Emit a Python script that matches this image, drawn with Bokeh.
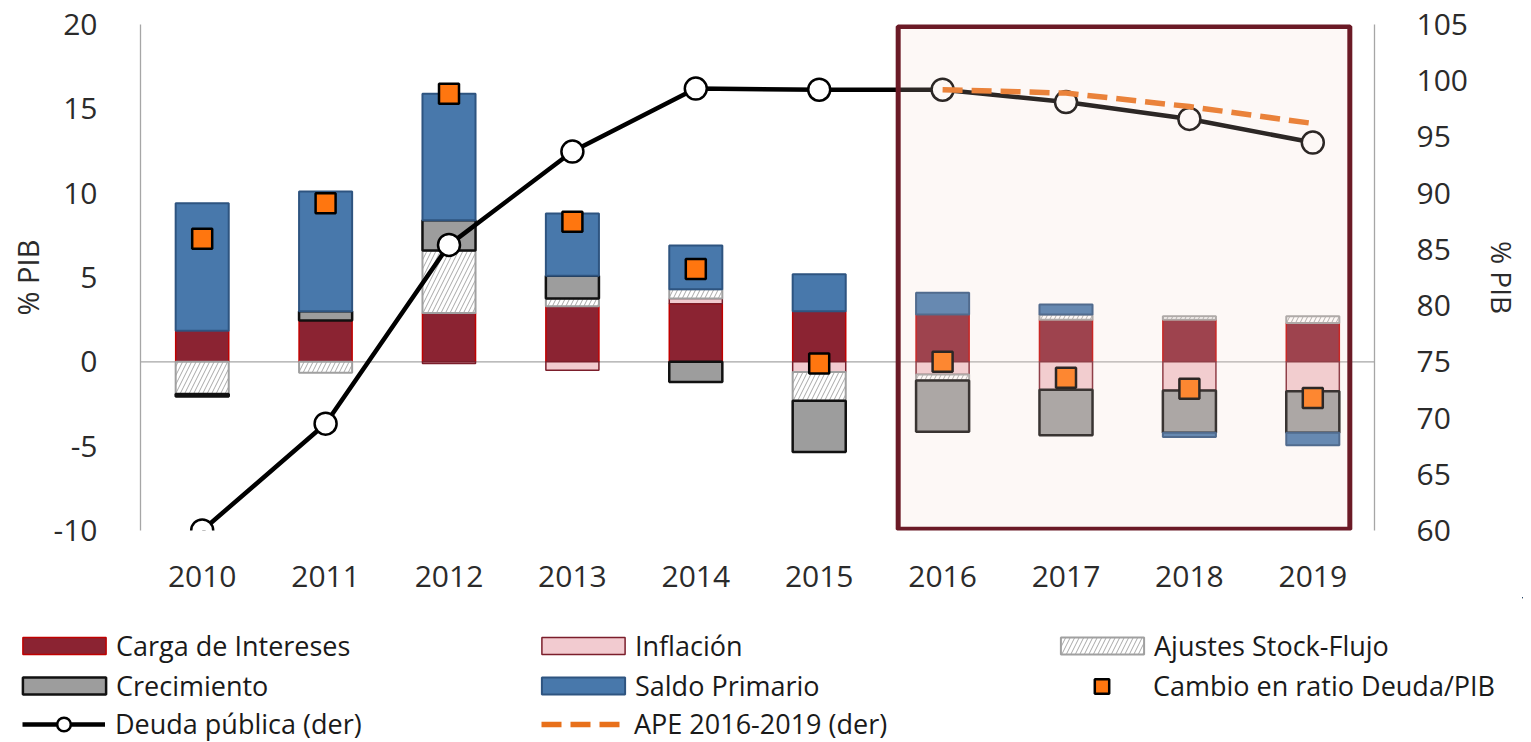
import numpy as np
from bokeh.plotting import figure
from bokeh.models import (Range1d, LinearAxis, FixedTicker, Span, Legend,
                          LegendItem, ColumnDataSource, BoxAnnotation)
from bokeh.embed import file_html
from bokeh.resources import INLINE

# ---------------- data ----------------
years = [2010, 2011, 2012, 2013, 2014, 2015, 2016, 2017, 2018, 2019]
carga_intereses = [1.85, 2.45, 2.9, 3.3, 3.45, 3.0, 2.8, 2.5, 2.5, 2.3]
inflacion = [0.0, 0.0, -0.1, -0.5, 0.3, -0.6, -0.75, -1.65, -1.7, -1.75]
ajustes_stock_flujo = [-1.9, -0.65, 3.7, 0.45, 0.55, -1.7, -0.35, 0.3, 0.2, 0.4]
crecimiento = [-0.15, 0.55, 1.8, 1.35, -1.2, -3.05, -3.05, -2.7, -2.5, -2.45]
saldo_primario = [7.55, 7.1, 7.5, 3.7, 2.6, 2.2, 1.3, 0.6, -0.25, -0.75]
cambio_ratio = [7.3, 9.4, 15.9, 8.3, 5.5, -0.1, 0.0, -0.95, -1.6, -2.15]
deuda_publica = [60.0, 69.5, 85.4, 93.7, 99.3, 99.2, 99.2, 98.1, 96.6, 94.5]
ape_years = [2016, 2017, 2018, 2019]
ape_2016_2019 = [99.2, 98.9, 97.7, 96.2]

left_ticks = [-10, -5, 0, 5, 10, 15, 20]
right_ticks = [60, 65, 70, 75, 80, 85, 90, 95, 100, 105]
series_labels = ["Carga de Intereses", "Inflación", "Ajustes Stock-Flujo",
                 "Crecimiento", "Saldo Primario", "Cambio en ratio Deuda/PIB",
                 "Deuda pública (der)", "APE 2016-2019 (der)"]

FONT = "Open Sans"
TXT = "#2b2b2b"
W_FIG = 1523

# ---------------- main figure ----------------
p = figure(width=W_FIG, height=597,
           x_range=Range1d(2009.5, 2019.5), y_range=Range1d(-10, 20),
           output_backend="svg", toolbar_location=None,
           min_border_left=140, min_border_right=137,
           min_border_top=24, min_border_bottom=67,
           outline_line_color=None, background_fill_color="white")
p.extra_y_ranges = {"right": Range1d(60, 105)}
p.xgrid.visible = False
p.ygrid.visible = False

xa = p.xaxis[0]
xa.ticker = FixedTicker(ticks=years)
xa.axis_line_color = None
xa.major_tick_line_color = None
xa.minor_tick_line_color = None
xa.major_label_standoff = 29
xa.major_label_text_font = FONT
xa.major_label_text_font_size = "30px"
xa.major_label_text_color = TXT

ya = p.yaxis[0]
ya.ticker = FixedTicker(ticks=left_ticks)
ya.major_label_overrides = {t: str(t) for t in left_ticks}
ya.axis_line_color = "#a6a6a6"
ya.axis_line_width = 1.3
ya.major_tick_line_color = None
ya.minor_tick_line_color = None
ya.major_label_standoff = 37
ya.major_label_text_font = FONT
ya.major_label_text_font_size = "30px"
ya.major_label_text_color = TXT
ya.axis_label = "% PIB"
ya.axis_label_text_font = FONT
ya.axis_label_text_font_size = "29px"
ya.axis_label_text_font_style = "normal"
ya.axis_label_text_color = TXT
ya.axis_label_standoff = 4

ra = LinearAxis(y_range_name="right", ticker=FixedTicker(ticks=right_ticks))
ra.axis_line_color = "#a6a6a6"
ra.axis_line_width = 1.3
ra.major_tick_line_color = None
ra.minor_tick_line_color = None
ra.major_label_standoff = 36
ra.major_label_text_font = FONT
ra.major_label_text_font_size = "30px"
ra.major_label_text_color = TXT
ra.axis_label = "% PIB"
ra.axis_label_text_font = FONT
ra.axis_label_text_font_size = "28px"
ra.axis_label_text_font_style = "normal"
ra.axis_label_text_color = TXT
ra.axis_label_standoff = 12
p.add_layout(ra, "right")

p.add_layout(Span(location=0, dimension="width", line_color="#a6a6a6",
                  line_width=1.3, level="underlay"))

# stacked bars
stack_series = [carga_intereses, inflacion, ajustes_stock_flujo, crecimiento, saldo_primario]
styles = [
    dict(fill_color="#8b2332", line_color="#c00000", line_width=1.5),
    dict(fill_color="#f2cbd0", line_color="#7b1e2b", line_width=1.5),
    dict(fill_color="white", line_color="#a0a0a0", line_width=2,
         hatch_pattern="/", hatch_color="#a8a8a8", hatch_scale=9, hatch_weight=1),
    dict(fill_color="#9d9d9d", line_color="#111111", line_width=2.5),
    dict(fill_color="#4878ab", line_color="#2e5480", line_width=2),
]
W = 0.43
yrs = np.array(years, dtype=float)
pos = np.zeros(len(years))
neg = np.zeros(len(years))
bar_sources = []
for vals, st in zip(stack_series, styles):
    v = np.array(vals, dtype=float)
    bottom = np.where(v >= 0, pos, neg + v)
    top = np.where(v >= 0, pos + v, neg)
    pos = pos + np.where(v > 0, v, 0)
    neg = neg + np.where(v < 0, v, 0)
    m = v != 0
    src = ColumnDataSource(dict(x=yrs[m], top=top[m], bottom=bottom[m]))
    bar_sources.append(src)
    p.vbar(x="x", top="top", bottom="bottom", width=W, source=src, **st)

debt_src = ColumnDataSource(dict(x=years, y=deuda_publica))
ape_src = ColumnDataSource(dict(x=ape_years, y=ape_2016_2019))
chg_src = ColumnDataSource(dict(x=years, y=cambio_ratio))

line_style = dict(line_color="black", line_width=4.5)
circ_style = dict(marker="circle", fill_color="white", line_color="black", line_width=2.5)
ape_style = dict(line_color="#e8701a", line_width=5.5, line_dash="20 9")
sq_style = dict(marker="square", fill_color="#ff760f", line_color="black", line_width=2.5)

p.line("x", "y", source=debt_src, y_range_name="right", **line_style)
p.scatter("x", "y", source=debt_src, y_range_name="right", size=22, **circ_style)
p.line("x", "y", source=ape_src, y_range_name="right", **ape_style)
p.scatter("x", "y", source=chg_src, size=20, **sq_style)

p.add_layout(BoxAnnotation(left=2015.64, right=2019.30, top=19.88, bottom=-9.93,
                           fill_color="#f4d8cd", fill_alpha=0.18,
                           line_color="#6b1a26", line_width=5, line_alpha=1.0))

# ---------------- legend figure (separate root, shares the data sources;
# its ranges keep every data mark out of view, only the legend shows) ----------------
LH = 145
lf = figure(width=W_FIG, height=LH, output_backend="svg", toolbar_location=None,
            x_axis_location=None, y_axis_location=None,
            min_border_left=0, min_border_right=0, min_border_top=0, min_border_bottom=0,
            outline_line_color=None,
            x_range=Range1d(-5000, -4000), y_range=Range1d(-5000, -4000))
lf.xgrid.visible = False
lf.ygrid.visible = False
bar_proxies = [lf.vbar(x="x", top="top", bottom="bottom", width=W, source=src, **st)
               for src, st in zip(bar_sources, styles)]
sq_proxy = lf.scatter("x", "y", source=chg_src, size=16, **sq_style)
debt_l = lf.line("x", "y", source=debt_src, **line_style)
debt_c = lf.scatter("x", "y", source=debt_src, size=15, **circ_style)
ape_l = lf.line("x", "y", source=ape_src, **ape_style)

common = dict(orientation="horizontal", padding=0, margin=0, spacing=3,
              label_text_font=FONT, label_text_font_size="27px",
              label_text_color="#1a1a1a", border_line_color=None,
              background_fill_alpha=0)
ROW_H = 37
tops = [30, 70, 108]


def loc(x0, row):
    return (x0, LH - tops[row] - ROW_H)


leg_a = Legend(items=[LegendItem(label=series_labels[i], renderers=[bar_proxies[i]])
                      for i in (0, 1, 2)],
               location=loc(12, 0), glyph_width=104, glyph_height=21,
               label_standoff=0, label_width=412, **common)
leg_b = Legend(items=[LegendItem(label=series_labels[3], renderers=[bar_proxies[3]]),
                      LegendItem(label=series_labels[4], renderers=[bar_proxies[4]])],
               location=loc(12, 1), glyph_width=104, glyph_height=21,
               label_standoff=0, label_width=412, **common)
leg_c = Legend(items=[LegendItem(label=series_labels[5], renderers=[sq_proxy])],
               location=loc(1060, 1), glyph_width=83, glyph_height=36,
               label_standoff=10, label_width=423, **common)
leg_d = Legend(items=[LegendItem(label=series_labels[6], renderers=[debt_l, debt_c]),
                      LegendItem(label=series_labels[7], renderers=[ape_l])],
               location=loc(22, 2), glyph_width=83, glyph_height=34,
               label_standoff=10, label_width=423, **common)
for lg in (leg_a, leg_b, leg_c, leg_d):
    lf.add_layout(lg, "center")

open("out.html", "w").write(file_html([p, lf], INLINE))
